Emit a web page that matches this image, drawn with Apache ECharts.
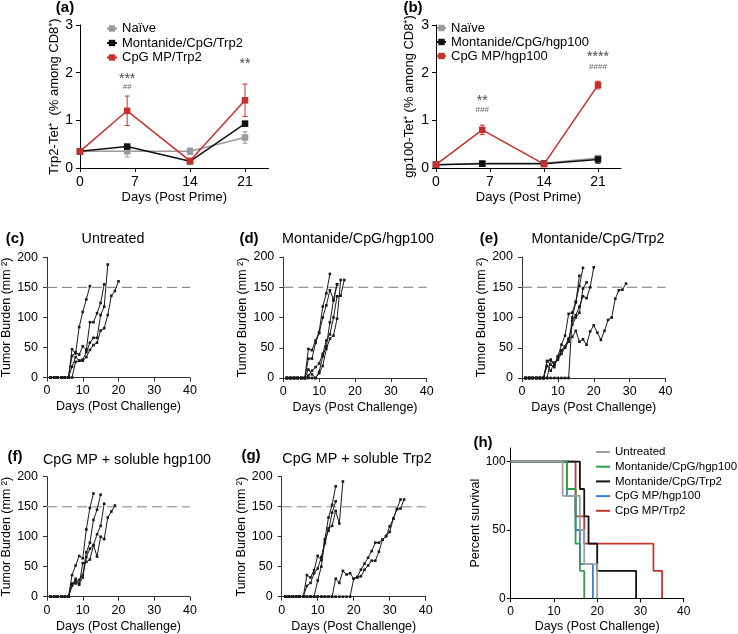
<!DOCTYPE html>
<html>
<head>
<meta charset="utf-8">
<script src="https://cdn.jsdelivr.net/npm/echarts@6/dist/echarts.min.js"></script>
<style>html,body{margin:0;padding:0;background:#fff}#c{width:738px;height:634px}</style>
</head>
<body>
<div id="c"></div>
<script>
// ---------- (a)/(b) tetramer staining ----------
const primeDays = [0, 6, 14, 21];
const primeTicks = [0, 7, 14, 21];
const tetTicks = [0, 1, 2, 3];
const aNaive = [0.35, 0.35, 0.35, 0.64];
const aNaiveErr = [0, 0.12, 0.07, 0.12];
const aMont = [0.35, 0.45, 0.14, 0.93];
const aMontErr = [0, 0.03, 0.02, 0.05];
const aCpg = [0.35, 1.2, 0.15, 1.42];
const aCpgErr = [0, 0.31, 0.03, 0.34];
const bNaive = [0.07, 0.1, 0.1, 0.21];
const bNaiveErr = [0, 0.02, 0.02, 0.04];
const bMont = [0.07, 0.09, 0.09, 0.18];
const bMontErr = [0, 0.02, 0.02, 0.08];
const bCpg = [0.07, 0.8, 0.08, 1.74];
const bCpgErr = [0, 0.1, 0.03, 0.08];
const aNames = ['Naïve', 'Montanide/CpG/Trp2', 'CpG MP/Trp2'];
const bNames = ['Naïve', 'Montanide/CpG/hgp100', 'CpG MP/hgp100'];
const aStars = [[6, 1.87, '***'], [21, 2.18, '**']];
const aHash = [[6, 1.70, '##']];
const bStars = [[6, 1.41, '**'], [21, 2.33, '****']];
const bHash = [[6, 1.22, '###'], [21, 2.12, '####']];

// ---------- (c)-(g) tumor burden per mouse [day, mm2] ----------
const challengeTicks = [0, 10, 20, 30, 40];
const burdenTicks = [0, 50, 100, 150, 200];
const threshold = 150;
const thresholdSpan = [0, 40];
const untreated = [
  [[1,0],[2,0],[3,0],[4,0],[5,0],[6,0],[7,47],[8,40],[9,84],[10,109],[11,130],[12,152]],
  [[1,0],[2,0],[3,0],[4,0],[5,0],[6,0],[7,36],[8,42],[9,38],[10,52],[11,46],[12,92],[13,92],[14,107],[15,124],[16,155]],
  [[1,0],[2,0],[3,0],[4,0],[5,0],[6,0],[7,18],[8,34],[9,28],[10,30],[11,42],[12,58],[13,66],[14,66],[15,104],[16,118],[17,188]],
  [[1,0],[2,0],[3,0],[4,0],[5,0],[6,0],[7,0],[8,26],[9,28],[10,28],[11,34],[12,46],[13,54],[14,58],[15,78],[16,82],[17,104],[18,136],[19,144],[20,160]]
];
const montHgp = [
  [[1,0],[2,0],[3,0],[4,0],[5,0],[6,0],[7,48],[8,46],[9,62],[10,76],[11,118],[12,140],[13,172]],
  [[1,0],[2,0],[3,0],[4,0],[5,0],[6,0],[7,32],[8,32],[9,58],[10,74],[11,100],[12,120],[13,145],[14,130],[15,155]],
  [[1,0],[2,0],[3,0],[4,0],[5,0],[6,0],[7,14],[8,6],[9,0],[10,8],[11,20],[12,48],[13,65],[14,70],[15,98],[16,162]],
  [[1,0],[2,0],[3,0],[4,0],[5,0],[6,0],[7,4],[8,12],[9,18],[10,24],[11,40],[12,62],[13,72],[14,100],[15,135],[16,136],[17,162]],
  [[1,0],[2,0],[3,0],[4,0],[5,0],[6,0],[7,0],[8,0],[9,0],[10,10],[11,36],[12,52],[13,92],[14,128],[15,155]]
];
const montTrp = [
  [[1,0],[2,0],[3,0],[4,0],[5,0],[6,0],[7,28],[8,22],[9,18],[10,36],[11,55],[12,70],[13,106],[14,108],[15,126],[16,152],[17,182]],
  [[1,0],[2,0],[3,0],[4,0],[5,0],[6,0],[7,0],[8,30],[9,25],[10,32],[11,46],[12,52],[13,64],[14,88],[15,100],[16,108],[17,148],[18,158]],
  [[1,0],[2,0],[3,0],[4,0],[5,0],[6,0],[7,20],[8,12],[9,25],[10,30],[11,40],[12,50],[13,60],[14,95],[15,104],[16,118],[17,135],[18,132],[19,150],[20,183]],
  [[1,0],[2,0],[3,0],[4,0],[5,0],[6,0],[7,0],[8,0],[9,0],[10,0],[11,0],[12,0],[13,0],[14,100],[15,125],[16,169]],
  [[1,0],[2,0],[3,0],[4,0],[5,0],[6,0],[7,28],[8,30],[9,20],[10,35],[11,45],[12,52],[13,65],[14,68],[15,78],[16,60],[17,64],[18,55],[19,77],[20,87],[21,75],[22,63],[23,78],[24,96],[25,100],[26,131],[27,145],[28,146],[29,156]]
];
const cpgHgpSol = [
  [[1,0],[2,0],[3,0],[4,0],[5,0],[6,0],[7,36],[8,52],[9,68],[10,64],[11,112],[12,148],[13,172]],
  [[1,0],[2,0],[3,0],[4,0],[5,0],[6,0],[7,22],[8,22],[9,28],[10,36],[11,74],[12,90],[13,128],[14,145],[15,170]],
  [[1,0],[2,0],[3,0],[4,0],[5,0],[6,0],[7,18],[8,30],[9,22],[10,32],[11,66],[12,80],[13,86],[14,104],[15,118],[16,155]],
  [[1,0],[2,0],[3,0],[4,0],[5,0],[6,0],[7,20],[8,26],[9,20],[10,56],[11,58],[12,62],[13,86],[14,67],[15,100],[16,96],[17,132],[18,142],[19,152]]
];
const cpgTrpSol = [
  [[1,0],[2,0],[3,0],[4,0],[5,0],[6,0],[7,36],[8,32],[9,44],[10,68],[11,61],[12,96],[13,132],[14,153],[15,184]],
  [[1,0],[2,0],[3,0],[4,0],[5,0],[6,0],[7,18],[8,23],[9,39],[10,47],[11,66],[12,89],[13,114],[14,118],[15,143],[16,122],[17,192]],
  [[1,0],[2,0],[3,0],[4,0],[5,0],[6,0],[7,0],[8,0],[9,0],[10,27],[11,50],[12,94],[13,110],[14,140],[15,159]],
  [[1,0],[2,0],[3,0],[4,0],[5,0],[6,0],[7,0],[8,0],[9,0],[10,0],[11,0],[12,0],[13,0],[14,0],[15,30],[16,23],[17,43],[18,37],[19,39],[20,30],[21,33],[22,45],[23,55],[24,65],[25,76],[26,90],[27,90],[28,95],[29,101],[30,108],[31,130],[32,146],[33,162]],
  [[1,0],[2,0],[3,0],[4,0],[5,0],[6,0],[7,0],[8,0],[9,0],[10,0],[11,0],[12,0],[13,0],[14,0],[15,0],[16,0],[17,0],[18,0],[19,0],[20,30],[21,32],[22,34],[23,45],[24,52],[25,60],[26,60],[27,75],[28,95],[29,101],[30,117],[31,130],[32,146],[33,147],[34,162]]
];

// ---------- (h) survival ----------
const survTicksX = [0, 10, 20, 30, 40];
const survTicksY = [0, 50, 100];
const survNames = ['Untreated', 'Montanide/CpG/hgp100', 'Montanide/CpG/Trp2', 'CpG MP/hgp100', 'CpG MP/Trp2'];
const survColors = ['#a0a0a0', '#2e9e48', '#111111', '#3b7fd6', '#c8372d'];
const untreatedT = [0, 12, 16, 17, 20];
const untreatedS = [100, 75, 50, 25, 0];
const montHgpT = [0, 13, 15, 16, 17];
const montHgpS = [100, 80, 40, 20, 0];
const montTrpT = [0, 16, 17, 18, 20, 29];
const montTrpS = [100, 80, 60, 40, 20, 0];
const cpgHgpT = [0, 13, 15, 16, 19];
const cpgHgpS = [100, 75, 50, 25, 0];
const cpgTrpT = [0, 15, 17, 33, 35];
const cpgTrpS = [100, 60, 40, 20, 0];

// ---------- chart ----------
const FONT = "'Liberation Sans', Arial, Helvetica, sans-serif";
const chart = echarts.init(document.getElementById('c'), null, {renderer: 'canvas'});

const grids = [
  {left: 80, top: 25, width: 188.6, height: 143},
  {left: 436, top: 25, width: 185.1, height: 143},
  {left: 47, top: 257.3, width: 143, height: 120.2},
  {left: 283.3, top: 257, width: 143.4, height: 121},
  {left: 522, top: 257, width: 143.5, height: 121},
  {left: 47, top: 476.7, width: 143, height: 120},
  {left: 281.7, top: 476.7, width: 144, height: 120},
  {left: 510.7, top: 448, width: 173, height: 150.3}
].map(g => Object.assign({containLabel: false, outerBoundsMode: 'none'}, g));

function axis(kind, gi, min, max, ticks, o) {
  const ax = {
    type: 'value', gridIndex: gi, min: min, max: max,
    interval: ticks[1] - ticks[0],
    name: o.name, nameLocation: 'middle', nameGap: o.gap,
    nameRotate: kind === 'y' ? 90 : 0,
    nameTextStyle: {fontFamily: FONT, fontSize: o.nameSize || 12.5, color: '#000'},
    axisLine: {show: true, onZero: false, lineStyle: {color: o.lineColor || '#000', width: 1}},
    axisTick: {show: true, length: 4, lineStyle: {color: o.lineColor || '#000'}, customValues: ticks},
    axisLabel: {show: true, fontFamily: FONT, fontSize: o.labelSize || 12.5, color: '#000',
                margin: o.margin || 7, customValues: ticks},
    splitLine: {show: false}
  };
  return ax;
}

const xAxes = [
  axis('x', 0, 0, 24, primeTicks, {name: 'Days (Post Prime)', gap: 23, nameSize: 13, labelSize: 14}),
  axis('x', 1, 0, 24, primeTicks, {name: 'Days (Post Prime)', gap: 23, nameSize: 13, labelSize: 14}),
  axis('x', 2, 0, 40, challengeTicks, {name: 'Days (Post Challenge)', gap: 23, lineColor: '#333'}),
  axis('x', 3, 0, 40, challengeTicks, {name: 'Days (Post Challenge)', gap: 23, lineColor: '#333'}),
  axis('x', 4, 0, 40, challengeTicks, {name: 'Days (Post Challenge)', gap: 23, lineColor: '#333'}),
  axis('x', 5, 0, 40, challengeTicks, {name: 'Days (Post Challenge)', gap: 23, lineColor: '#333'}),
  axis('x', 6, 0, 40, challengeTicks, {name: 'Days (Post Challenge)', gap: 23, lineColor: '#333'}),
  axis('x', 7, 0, 40, survTicksX, {name: 'Days (Post Challenge)', gap: 22, labelSize: 12})
];
const yAxes = [
  axis('y', 0, 0, 3, tetTicks, {name: 'Trp2-Tet\u207A  (% among CD8\u207A)', gap: 19, nameSize: 13, labelSize: 14}),
  axis('y', 1, 0, 3, tetTicks, {name: 'gp100-Tet\u207A (% among CD8\u207A)', gap: 20, nameSize: 13, labelSize: 14}),
  axis('y', 2, 0, 200, burdenTicks, {name: 'Tumor Burden (mm \u00B2)', gap: 33, lineColor: '#333', margin: 9}),
  axis('y', 3, 0, 200, burdenTicks, {name: 'Tumor Burden (mm \u00B2)', gap: 33, lineColor: '#333', margin: 9}),
  axis('y', 4, 0, 200, burdenTicks, {name: 'Tumor Burden (mm \u00B2)', gap: 33, lineColor: '#333', margin: 9}),
  axis('y', 5, 0, 200, burdenTicks, {name: 'Tumor Burden (mm \u00B2)', gap: 33, lineColor: '#333', margin: 9}),
  axis('y', 6, 0, 200, burdenTicks, {name: 'Tumor Burden (mm \u00B2)', gap: 33, lineColor: '#333', margin: 9}),
  axis('y', 7, 0, 110, survTicksY, {name: 'Percent survival', gap: 24, labelSize: 12, margin: 5})
];
yAxes[7].interval = 50;

const series = [];

function errSeries(gi, vals, errs, color) {
  return {
    type: 'custom', xAxisIndex: gi, yAxisIndex: gi, silent: true, z: 1,
    data: primeDays.map((d, i) => [d, vals[i] - errs[i], vals[i] + errs[i]]),
    encode: {x: 0, y: [1, 2]},
    renderItem: function (params, api) {
      const lo = api.coord([api.value(0), api.value(1)]);
      const hi = api.coord([api.value(0), api.value(2)]);
      const w = 2.5;
      const st = {stroke: color, lineWidth: 1};
      return {type: 'group', children: [
        {type: 'line', shape: {x1: lo[0], y1: lo[1], x2: hi[0], y2: hi[1]}, style: st},
        {type: 'line', shape: {x1: lo[0] - w, y1: lo[1], x2: lo[0] + w, y2: lo[1]}, style: st},
        {type: 'line', shape: {x1: hi[0] - w, y1: hi[1], x2: hi[0] + w, y2: hi[1]}, style: st}
      ]};
    }
  };
}
function tetSeries(gi, prefix, name, vals, color) {
  return {
    type: 'line', name: prefix + name, xAxisIndex: gi, yAxisIndex: gi, z: 3,
    data: primeDays.map((d, i) => [d, vals[i]]),
    symbol: 'rect', symbolSize: 6.5, showSymbol: true,
    lineStyle: {color: color, width: 1.5}, itemStyle: {color: color}
  };
}
function annot(gi, items, size, color) {
  return {
    type: 'scatter', xAxisIndex: gi, yAxisIndex: gi, symbolSize: 0, silent: true, z: 5,
    data: items.map(it => ({value: [it[0], it[1]], name: it[2]})),
    label: {show: true, position: 'inside', formatter: '{b}', fontFamily: FONT, fontSize: size, color: color}
  };
}
const tetColors = ['#9a9a9a', '#111111', '#c8312b'];
[[0, 'a|', aNames, [aNaive, aMont, aCpg], [aNaiveErr, aMontErr, aCpgErr]],
 [1, 'b|', bNames, [bNaive, bMont, bCpg], [bNaiveErr, bMontErr, bCpgErr]]].forEach(p => {
  for (let k = 0; k < 3; k++) {
    series.push(errSeries(p[0], p[3][k], p[4][k], tetColors[k]));
    series.push(tetSeries(p[0], p[1], p[2][k], p[3][k], tetColors[k]));
  }
});
series.push(annot(0, aStars, 14, '#111'));
series.push(annot(0, aHash, 8, '#444'));
series.push(annot(1, bStars, 14, '#111'));
series.push(annot(1, bHash, 8, '#444'));

function thresholdSeries(gi, color, width) {
  return {
    type: 'line', xAxisIndex: gi, yAxisIndex: gi, silent: true, z: 1,
    data: [[thresholdSpan[0], threshold], [thresholdSpan[1], threshold]],
    symbol: 'none', lineStyle: {color: color, width: width, type: [10, 5]}
  };
}
function mouseSeries(gi, data) {
  return {
    type: 'line', xAxisIndex: gi, yAxisIndex: gi, silent: true, z: 2,
    data: data, symbol: 'rect', symbolSize: 2.6, showSymbol: true,
    lineStyle: {color: '#1a1a1a', width: 1}, itemStyle: {color: '#1a1a1a'}
  };
}
[[2, untreated, '#777', 1], [3, montHgp, '#777', 1], [4, montTrp, '#777', 1],
 [5, cpgHgpSol, '#aaa', 1.5], [6, cpgTrpSol, '#aaa', 1.5]].forEach(p => {
  series.push(thresholdSeries(p[0], p[2], p[3]));
  p[1].forEach(m => series.push(mouseSeries(p[0], m)));
});

const survT = [untreatedT, montHgpT, montTrpT, cpgHgpT, cpgTrpT];
const survS = [untreatedS, montHgpS, montTrpS, cpgHgpS, cpgTrpS];
for (let k = 4; k >= 0; k--) {
  series.push({
    type: 'line', name: 'h|' + survNames[k], xAxisIndex: 7, yAxisIndex: 7, step: 'end',
    data: survT[k].map((t, i) => [t, survS[k][i]]), symbol: 'none', z: 2 + (5 - k) * 0.1,
    lineStyle: {color: survColors[k], width: 1.8}, itemStyle: {color: survColors[k]}
  });
}

const strip = n => n.slice(2);
const legends = [
  {left: 106, top: 22, orient: 'vertical', itemWidth: 10, itemHeight: 8, itemGap: 1.5, padding: 0,
   data: aNames.map(n => 'a|' + n), formatter: strip, selectedMode: false,
   textStyle: {fontFamily: FONT, fontSize: 13, color: '#000'}},
  {left: 436, top: 21.5, orient: 'vertical', itemWidth: 9, itemHeight: 8, itemGap: 1, padding: 0,
   data: bNames.map(n => 'b|' + n), formatter: strip, selectedMode: false,
   textStyle: {fontFamily: FONT, fontSize: 13, color: '#000'}},
  {left: 596, top: 446, orient: 'vertical', icon: 'rect', itemWidth: 14, itemHeight: 2, itemGap: 2.7, padding: 0,
   data: survNames.map(n => 'h|' + n), formatter: strip, selectedMode: false,
   textStyle: {fontFamily: FONT, fontSize: 11.5, color: '#000'}}
];

function txt(x, y, s, size, bold) {
  return {type: 'text', x: x, y: y, silent: true,
    style: {text: s, fontFamily: FONT, fontSize: size, fontWeight: bold ? 'bold' : 'normal',
            fill: '#000', align: 'center', verticalAlign: 'middle'}};
}
const graphics = [
  txt(65, 8, '(a)', 15, true), txt(413, 8, '(b)', 15, true),
  txt(15, 239, '(c)', 15, true), txt(249, 239, '(d)', 15, true), txt(489, 239, '(e)', 15, true),
  txt(15, 457, '(f)', 15, true), txt(251, 456, '(g)', 15, true), txt(483, 443, '(h)', 15, true),
  txt(113, 239, 'Untreated', 14.3), txt(358, 239, 'Montanide/CpG/hgp100', 14.3),
  txt(598, 239, 'Montanide/CpG/Trp2', 14.3), txt(127, 460, 'CpG MP + soluble hgp100', 14.3),
  txt(357, 459, 'CpG MP + soluble Trp2', 14.3)
];

chart.setOption({
  animation: false,
  backgroundColor: '#fff',
  textStyle: {fontFamily: FONT},
  grid: grids,
  xAxis: xAxes,
  yAxis: yAxes,
  legend: legends,
  graphic: graphics,
  series: series
});
</script>
</body>
</html>
